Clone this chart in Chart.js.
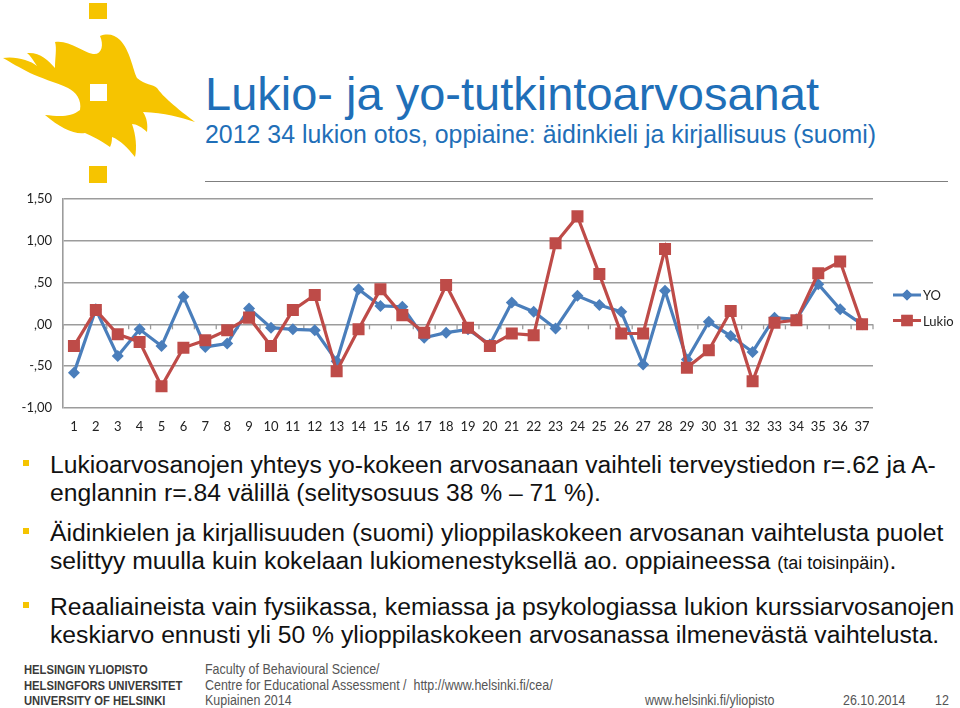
<!DOCTYPE html>
<html>
<head>
<meta charset="utf-8">
<script src="https://cdn.jsdelivr.net/npm/chart.js@4/dist/chart.umd.min.js"></script>
<style>
  html, body { margin:0; padding:0; background:#fff; }
  body { width:960px; height:708px; position:relative; overflow:hidden; font-family:"Liberation Sans", Arial, sans-serif; }
  .abs { position:absolute; white-space:nowrap; }
  #title { left:205px; top:70px; font-size:47px; line-height:47px; color:#1f6fb8; }
  #subtitle { left:205px; top:122px; font-size:24.9px; line-height:24.9px; color:#1f6fb8; }
  #sep { left:205px; top:181px; width:743px; height:0; border-top:1.5px solid #7f7f7f; }
  .para { left:50px; font-size:24.7px; line-height:28px; color:#111; }
  .para small { font-size:18px; }
  .bullet { width:6px; height:6px; background:#f5c400; left:23px; }
  .fl { font-size:13.7px; line-height:13px; font-weight:bold; color:#3a3a3a; left:24px; transform:scaleX(0.82); transform-origin:0 0; }
  .fm { font-size:14px; line-height:13px; color:#555; transform:scaleX(0.89); transform-origin:0 0; }
  #chartWrap { position:absolute; left:0; top:180px; width:960px; height:260px; }
</style>
</head>
<body>
<svg class="abs" style="left:0;top:0" width="200" height="190" viewBox="0 0 200 190">
  <rect x="89" y="3" width="18" height="16" fill="#f6c400"/>
  <rect x="89" y="166" width="18" height="17" fill="#f6c400"/>
  <path fill="#f6c400" d="M3,58 C15,56 30,60 37,66 C33,60 30,55 27,53 C40,52 48,60 55,68 C55,58 57,48 55,42 C70,40 82,52 93,54 C102,55 104,45 100,36 C108,33 115,35 120,40 C130,50 133,70 137,78 C145,85 153,84 157,88 C162,95 170,103 195,122 C180,117 165,113 143,112 C147,118 148,125 147,132 C142,127 136,124 132,124 C136,135 137,148 135,157 C128,148 120,140 112,137 C112,142 111,145 110,147 C100,140 92,136 85,133 C75,135 60,128 45,115 C58,116 70,118 80,110 C82,100 76,92 68,88 C55,82 40,78 30,73 C20,68 10,62 3,58 Z"/>
  <rect x="90" y="84" width="17" height="17" fill="#fff"/>
</svg>

<div id="title" class="abs">Lukio- ja yo-tutkintoarvosanat</div>
<div id="subtitle" class="abs">2012 34 lukion otos, oppiaine: äidinkieli ja kirjallisuus (suomi)</div>
<div id="sep" class="abs"></div>

<div id="chartWrap"><canvas id="c" width="960" height="260"></canvas></div>

<div class="abs bullet" style="top:460px"></div>
<div class="abs para" style="top:450.5px">Lukioarvosanojen yhteys yo-kokeen arvosanaan vaihteli terveystiedon r=.62 ja A-<br>englannin r=.84 välillä (selitysosuus 38 % – 71 %).</div>
<div class="abs bullet" style="top:528px"></div>
<div class="abs para" style="top:519px">Äidinkielen ja kirjallisuuden (suomi) ylioppilaskokeen arvosanan vaihtelusta puolet<br>selittyy muulla kuin kokelaan lukiomenestyksellä ao. oppiaineessa <small>(tai toisinpäin)</small>.</div>
<div class="abs bullet" style="top:602px"></div>
<div class="abs para" style="top:592.5px">Reaaliaineista vain fysiikassa, kemiassa ja psykologiassa lukion kurssiarvosanojen<br>keskiarvo ennusti yli 50 % ylioppilaskokeen arvosanassa ilmenevästä vaihtelusta.</div>

<div class="abs fl" style="top:662.5px">HELSINGIN YLIOPISTO</div>
<div class="abs fl" style="top:678.5px">HELSINGFORS UNIVERSITET</div>
<div class="abs fl" style="top:693.5px">UNIVERSITY OF HELSINKI</div>
<div class="abs fm" style="left:205px;top:662.5px">Faculty of Behavioural Science/</div>
<div class="abs fm" style="left:205px;top:678.5px">Centre for Educational Assessment /&nbsp; http://www.helsinki.fi/cea/</div>
<div class="abs fm" style="left:205px;top:693.5px">Kupiainen 2014</div>
<div class="abs fm" style="left:645px;top:693.5px">www.helsinki.fi/yliopisto</div>
<div class="abs fm" style="left:843px;top:693.5px">26.10.2014</div>
<div class="abs fm" style="left:935px;top:693.5px">12</div>

<script>
const categories = ["1","2","3","4","5","6","7","8","9","10","11","12","13","14","15","16","17","18","19","20","21","22","23","24","25","26","27","28","29","30","31","32","33","34","35","36","37"];
const yoValues = [-0.58, 0.18, -0.38, -0.06, -0.26, 0.33, -0.27, -0.23, 0.19, -0.04, -0.06, -0.07, -0.44, 0.42, 0.22, 0.21, -0.16, -0.10, -0.06, -0.24, 0.26, 0.15, -0.05, 0.34, 0.23, 0.15, -0.48, 0.40, -0.42, 0.03, -0.14, -0.33, 0.08, 0.06, 0.48, 0.18, 0.00];
const lukioValues = [-0.26, 0.17, -0.12, -0.21, -0.74, -0.28, -0.19, -0.07, 0.08, -0.26, 0.17, 0.35, -0.56, -0.06, 0.42, 0.11, -0.10, 0.47, -0.04, -0.26, -0.11, -0.13, 0.97, 1.29, 0.60, -0.11, -0.11, 0.90, -0.52, -0.31, 0.16, -0.68, 0.02, 0.05, 0.61, 0.75, 0.00];
const yTickValues = [-1, -0.5, 0, 0.5, 1, 1.5];
const yTickLabels = ["-1,00", "-,50", ",00", ",50", "1,00", "1,50"];
const seriesNames = ["YO", "Lukio"];

const BLUE = "#4a7ebb", RED = "#be4b48", GRID = "#9c9c9c";
const FONT = "Lato, 'Open Sans', sans-serif";

const extras = {
  id: "extras",
  beforeDatasetsDraw(chart) {
    const ctx = chart.ctx, xs = chart.scales.x, ys = chart.scales.y;
    const y0 = ys.getPixelForValue(0);
    ctx.save();
    ctx.strokeStyle = GRID; ctx.lineWidth = 1.3;
    const n = categories.length;
    for (let i = 0; i <= n; i++) {
      let x;
      if (i === 0) x = chart.chartArea.left;
      else if (i === n) x = chart.chartArea.right;
      else x = (xs.getPixelForValue(i - 1) + xs.getPixelForValue(i)) / 2;
      ctx.beginPath(); ctx.moveTo(x, y0); ctx.lineTo(x, y0 + 5); ctx.stroke();
    }
    ctx.restore();
  },
  afterDraw(chart) {
    const ctx = chart.ctx;
    const items = [
      { name: seriesNames[0], color: BLUE, style: "rectRot", r: 5.5, y: 115 },
      { name: seriesNames[1], color: RED, style: "rect", r: 8, y: 140.5 }
    ];
    ctx.save();
    items.forEach(it => {
      ctx.strokeStyle = it.color; ctx.lineWidth = 3;
      ctx.beginPath(); ctx.moveTo(893, it.y); ctx.lineTo(921, it.y); ctx.stroke();
      ctx.fillStyle = it.color;
      Chart.helpers.drawPoint(ctx, { pointStyle: it.style, radius: it.r, borderWidth: 0 }, 907, it.y);
      ctx.fill();
      ctx.fillStyle = "#222"; ctx.font = "13px " + FONT; ctx.textBaseline = "middle";
      ctx.fillText(it.name, 923, it.y + 1);
    });
    ctx.restore();
  }
};

new Chart(document.getElementById("c"), {
  type: "line",
  data: {
    labels: categories,
    datasets: [
      { label: seriesNames[0], data: yoValues, borderColor: BLUE, backgroundColor: BLUE, borderWidth: 3.2,
        pointStyle: "rectRot", pointRadius: 6, pointBorderWidth: 0, pointBackgroundColor: BLUE, tension: 0, order: 2 },
      { label: seriesNames[1], data: lukioValues, borderColor: RED, backgroundColor: RED, borderWidth: 3.2,
        pointStyle: "rect", pointRadius: 8.5, pointBorderWidth: 0, pointBackgroundColor: RED, tension: 0, order: 1 }
    ]
  },
  options: {
    responsive: false,
    animation: false,
    events: [],
    layout: { padding: { top: 9, right: 87, left: 0, bottom: 0 } },
    plugins: { legend: { display: false }, tooltip: { enabled: false }, title: { display: false } },
    scales: {
      x: {
        offset: true,
        grid: { display: false, drawTicks: false },
        border: { display: false },
        ticks: { color: "#222", font: { family: FONT, size: 13 }, padding: 11, maxRotation: 0, autoSkip: false },
        afterFit(s) { s.height = 32; }
      },
      y: {
        min: -1, max: 1.5,
        afterBuildTicks(s) { s.ticks = yTickValues.map(v => ({ value: v })); },
        grid: { color: GRID, lineWidth: 1.6, drawTicks: false },
        border: { display: true, color: GRID, width: 1.6 },
        ticks: {
          color: "#222", font: { family: FONT, size: 13 }, padding: 11,
          callback(v) { const i = yTickValues.indexOf(v); return i >= 0 ? yTickLabels[i] : ""; }
        },
        afterFit(s) { s.width = 63; }
      }
    }
  },
  plugins: [extras]
});
</script>
</body>
</html>
